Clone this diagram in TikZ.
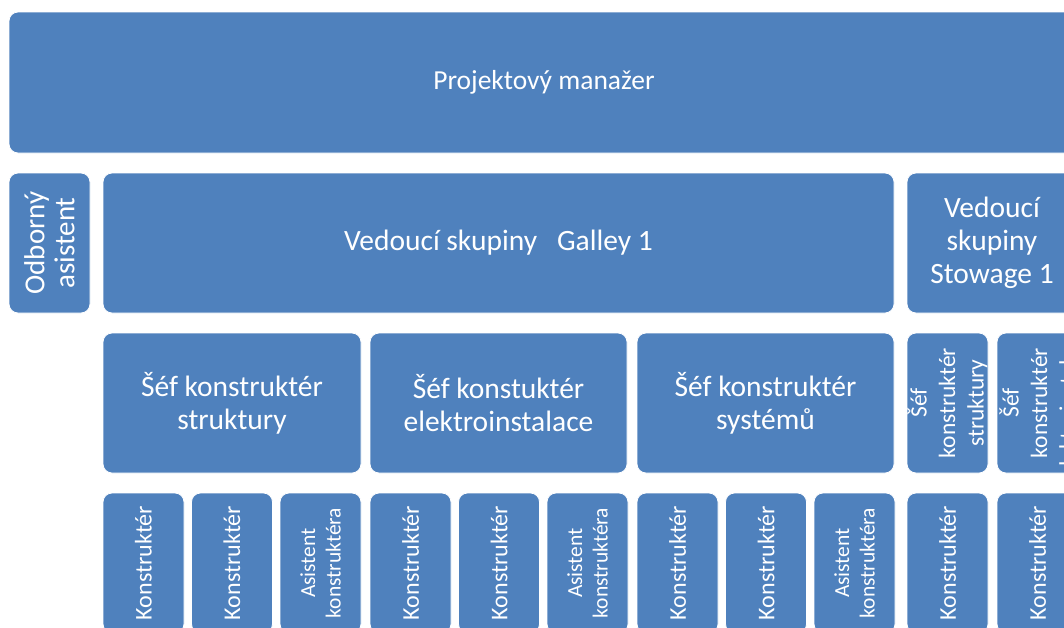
\documentclass[tikz,border=0pt]{standalone}
\usepackage{fontspec}
\setmainfont{Carlito}
\definecolor{boxblue}{HTML}{4F81BD}
\tikzset{
  orgbox/.style={draw=white, line width=0.8pt, fill=boxblue, rounded corners=9pt,
    text=white, align=center, inner sep=0pt, font=\fontsize{29.5}{33}\selectfont},
  vbox/.style={orgbox, rotate=90, minimum width=140pt, minimum height=81pt,
    font=\fontsize{24}{29}\selectfont},
  smalltxt/.style={font=\fontsize{21.5}{25.5}\selectfont},
}
\begin{document}
\begin{tikzpicture}[x=1pt,y=-1pt]
\useasboundingbox (0,0) rectangle (1064,627);
\clip (0,0) rectangle (1064,627);
% row 1
\node[orgbox, minimum width=1070pt, minimum height=141pt, font=\fontsize{27.5}{33}\selectfont] (pm) at (544,82.5) {Projektový manažer};
% row 2
\node[vbox, font=\fontsize{29}{30}\selectfont] (oa) at (49.5,243) {Odborný\\asistent};
\node[orgbox, minimum width=791pt, minimum height=140pt] (vg) at (498.5,243) {Vedoucí skupiny\ \ \ Galley 1};
\node[orgbox, minimum width=170pt, minimum height=140pt] (vs) at (992,243) {Vedoucí\\skupiny\\Stowage 1};
% row 3
\node[orgbox, minimum width=258pt, minimum height=140pt] (s1) at (232,403) {Šéf konstruktér\\struktury};
\node[orgbox, minimum width=257pt, minimum height=140pt] (s2) at (498.5,403) {Šéf konstuktér\\elektroinstalace};
\node[orgbox, minimum width=257pt, minimum height=140pt] (s3) at (765.5,403) {Šéf konstruktér\\systémů};
\node[vbox, font=\fontsize{23.5}{28.5}\selectfont] (s4) at (947.5,403) {Šéf\\konstruktér\\struktury};
\node[vbox, font=\fontsize{23.5}{28.5}\selectfont] (s5) at (1037.5,403) {Šéf\\konstruktér\\\makebox[120pt]{elektroinstalace}};
% row 4
\node[vbox] (k1) at (143.5,563) {Konstruktér};
\node[vbox] (k2) at (232,563) {Konstruktér};
\node[vbox, smalltxt] (a1) at (320.5,563) {Asistent\\konstruktéra};
\node[vbox] (k3) at (410.5,563) {Konstruktér};
\node[vbox] (k4) at (499,563) {Konstruktér};
\node[vbox, smalltxt] (a2) at (587.5,563) {Asistent\\konstruktéra};
\node[vbox] (k5) at (677.5,563) {Konstruktér};
\node[vbox] (k6) at (766,563) {Konstruktér};
\node[vbox, smalltxt] (a3) at (854.5,563) {Asistent\\konstruktéra};
\node[vbox] (k7) at (947.5,563) {Konstruktér};
\node[vbox] (k8) at (1037.5,563) {Konstruktér};
\end{tikzpicture}
\end{document}
